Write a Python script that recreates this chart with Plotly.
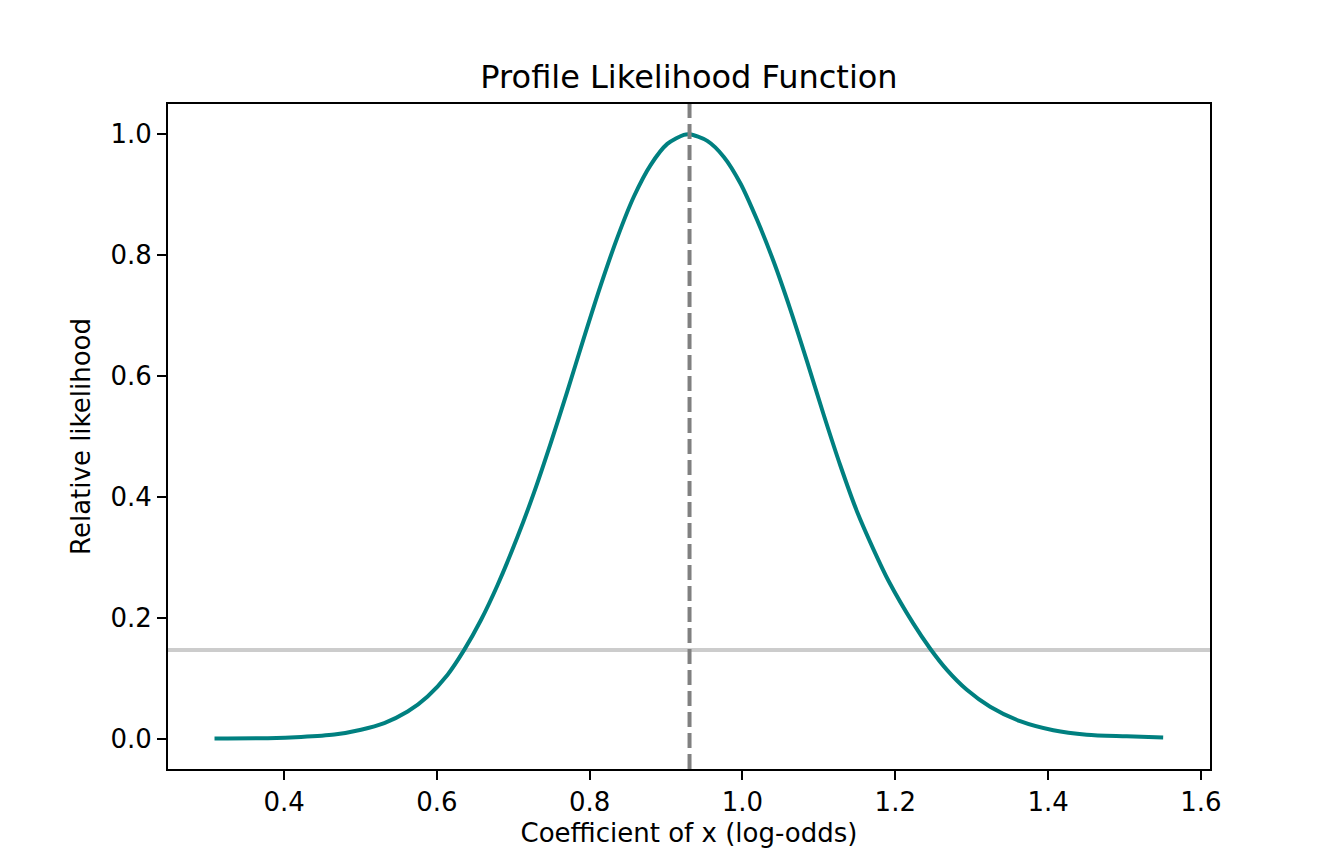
import plotly.graph_objects as go

# values
coef = [0.3089, 0.3787, 0.4222, 0.4658, 0.5007, 0.5311, 0.5617, 0.5878,
        0.6140, 0.6357, 0.6575, 0.6793, 0.7055, 0.7272, 0.7490, 0.7708,
        0.7926, 0.8144, 0.8362, 0.8579, 0.8797, 0.9016, 0.9233, 0.9307,
        0.9539, 0.9756, 0.9974, 1.0192, 1.0409, 1.0627, 1.0846, 1.1063,
        1.1281, 1.1499, 1.1716, 1.1913, 1.2239, 1.2458, 1.2676, 1.2937,
        1.3242, 1.3634, 1.4069, 1.4506, 1.5029, 1.5507]
rel_lik = [0.0005, 0.001, 0.003, 0.007, 0.015, 0.026, 0.045, 0.070,
           0.106, 0.147, 0.196, 0.254, 0.334, 0.4075, 0.489, 0.575,
           0.664, 0.750, 0.829, 0.897, 0.949, 0.984, 0.999, 1.000,
           0.989, 0.9625, 0.9185, 0.858, 0.789, 0.710, 0.624, 0.536,
           0.452, 0.376, 0.313, 0.261, 0.190, 0.149, 0.114, 0.081,
           0.053, 0.029, 0.014, 0.0066, 0.004, 0.002]
mle = 0.9307          # dashed vertical line
threshold = 0.147     # light grey horizontal cut-off

x_ticks = [0.4, 0.6, 0.8, 1.0, 1.2, 1.4, 1.6]
y_ticks = [0.0, 0.2, 0.4, 0.6, 0.8, 1.0]

font = "DejaVu Sans"

fig = go.Figure()

fig.add_trace(go.Scatter(
    x=coef, y=rel_lik, mode="lines",
    line=dict(color="#008080", width=4, shape="spline", smoothing=0.8),
    showlegend=False, hoverinfo="x+y",
))

# grey threshold line across the whole axes
fig.add_hline(y=threshold, line=dict(color="#cccccc", width=4), layer="below")
# dashed line at the MLE
fig.add_vline(x=mle, line=dict(color="#808080", width=4, dash="15px,6px"))

axis_common = dict(
    showline=True, linecolor="black", linewidth=2, mirror=True,
    ticks="outside", ticklen=9, tickwidth=2, tickcolor="black",
    showgrid=False, zeroline=False,
    tickfont=dict(family=font, size=26, color="black"),
)

# page body adds 8px, margins below are set to compensate
fig.update_layout(
    width=1344, height=864,
    margin=dict(l=160, r=142, t=96, b=103),
    paper_bgcolor="white", plot_bgcolor="white",
    font=dict(family=font, color="black"),
    title=dict(text="Profile Likelihood Function", x=0.5, xanchor="center",
               xref="paper", y=1 - 69 / 864, yanchor="middle", yref="container",
               font=dict(family=font, size=32, color="black")),
    xaxis=dict(range=[0.248, 1.612], tickvals=x_ticks,
               ticktext=[f"{v:.1f}" for v in x_ticks],
               title=dict(text="Coefficient of x (log-odds)", standoff=8,
                          font=dict(family=font, size=26)),
               **axis_common),
    yaxis=dict(range=[-0.05, 1.05], tickvals=y_ticks,
               ticktext=[f"{v:.1f}" for v in y_ticks],
               title=dict(text="Relative likelihood", standoff=12,
                          font=dict(family=font, size=26)),
               **axis_common),
)

fig.write_html("out.html")
